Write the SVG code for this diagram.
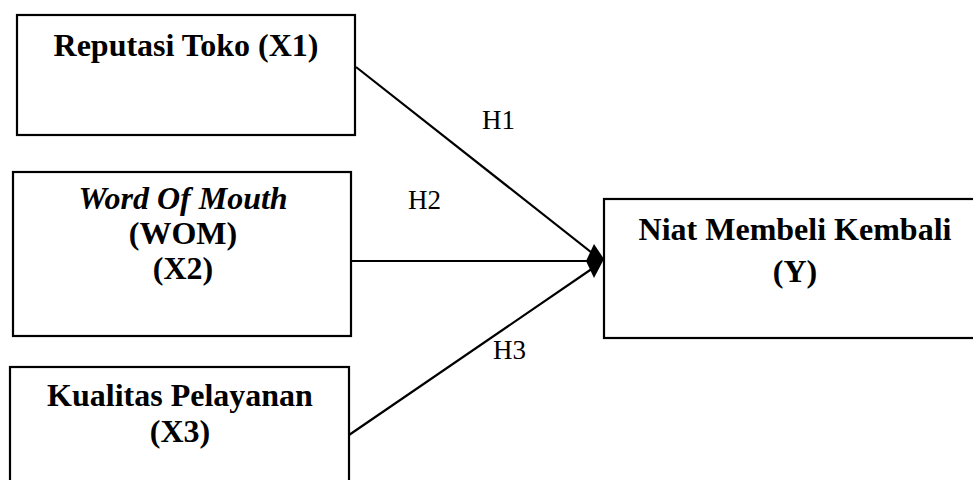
<svg xmlns="http://www.w3.org/2000/svg" width="973" height="480" viewBox="0 0 973 480">
<style>
.box{fill:#fff;stroke:#000;stroke-width:2.2}
.t{font-family:"Liberation Serif","Times New Roman",serif;font-size:32px;font-weight:bold;text-anchor:middle;fill:#000}
.i{font-style:italic}
.lbl{font-family:"Liberation Serif","Times New Roman",serif;font-size:27px;fill:#000}
.ln{stroke:#000;stroke-width:2.2;fill:none}
</style>
<rect width="973" height="480" fill="#fff"/>
<g id="x1">
<rect class="box" x="17" y="15" width="338" height="120"/>
<text class="t" x="186" y="56">Reputasi Toko (X1)</text>
</g>
<g id="x2">
<rect class="box" x="13" y="172" width="338" height="164"/>
<text class="t i" x="183" y="209">Word Of Mouth</text>
<text class="t" x="183" y="244">(WOM)</text>
<text class="t" x="183" y="279">(X2)</text>
</g>
<g id="x3">
<rect class="box" x="10" y="367" width="339" height="140"/>
<text class="t" x="180" y="406">Kualitas Pelayanan</text>
<text class="t" x="180" y="442">(X3)</text>
</g>
<g id="y">
<rect class="box" x="604" y="199" width="382" height="139"/>
<text class="t" x="795" y="240">Niat Membeli Kembali</text>
<text class="t" x="795" y="282">(Y)</text>
</g>
<g id="connectors">
<line class="ln" x1="356" y1="67" x2="596" y2="256"/>
<line class="ln" x1="351" y1="261" x2="596" y2="261"/>
<line class="ln" x1="349" y1="435" x2="596" y2="266"/>
<polygon points="586,261 594,244 604,259 594,278" fill="#000"/>
<text class="lbl" x="482" y="129">H1</text>
<text class="lbl" x="408" y="209">H2</text>
<text class="lbl" x="493" y="359">H3</text>
</g>
</svg>
